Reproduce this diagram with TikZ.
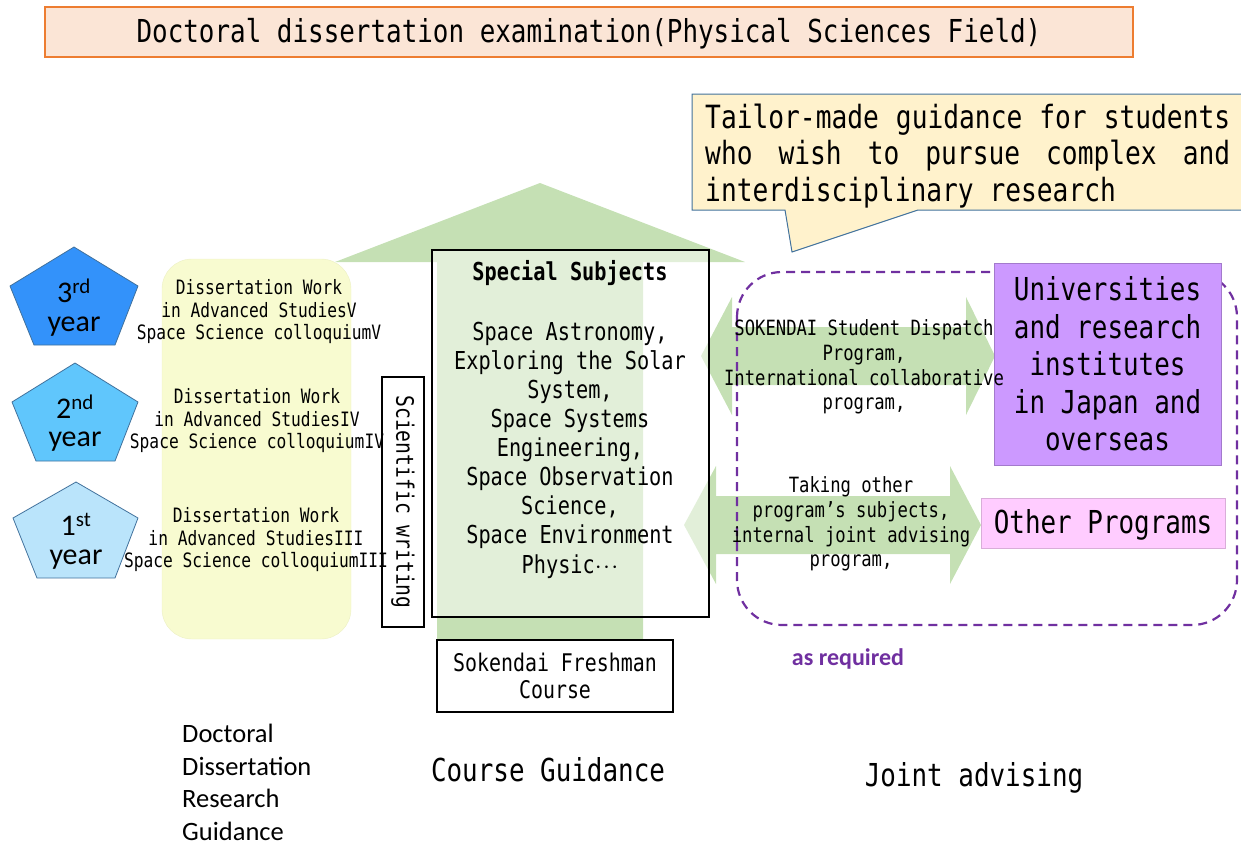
\documentclass[tikz,border=0pt]{standalone}
\usepackage{fontspec}
\setmainfont{Carlito}
\newfontfamily\goth[FakeStretch=0.82]{DejaVu Sans Mono}
\usepackage{tikz}
\usetikzlibrary{positioning}
\definecolor{arrowgreen}{RGB}{197,224,180}
\definecolor{titlefill}{RGB}{251,229,214}
\definecolor{titleline}{RGB}{237,125,49}
\definecolor{callfill}{RGB}{255,242,204}
\definecolor{callline}{RGB}{65,113,156}
\definecolor{guidefill}{RGB}{248,251,208}
\definecolor{guideline}{RGB}{236,240,196}
\definecolor{jointpurple}{RGB}{112,48,160}
\definecolor{unifill}{RGB}{204,153,255}
\definecolor{progfill}{RGB}{255,204,255}
\definecolor{yearthree}{RGB}{51,146,250}
\definecolor{yeartwo}{RGB}{96,198,252}
\definecolor{yearone}{RGB}{186,228,251}
\newcommand{\gsize}[2]{\goth\fontsize{#1}{#2}\selectfont}
\tikzset{titlebox/.style={draw=titleline, fill=titlefill, line width=1.2pt, inner sep=0pt},
    yearshape/.style={draw=callline, line width=0.8pt},
    yeartext/.style={font=\fontsize{30}{32}\selectfont, inner sep=0pt},
    coltext/.style={align=center, inner sep=0pt, font=\gsize{19.8}{22.5}},
    plainbox/.style={draw=black, line width=1.2pt, inner sep=0pt},
    arrowtext/.style={align=center, inner sep=0pt, font=\gsize{21}{24.7}},
    bigtext/.style={align=center, inner sep=0pt, font=\gsize{31.6}{37.5}}}

\begin{document}
\begin{tikzpicture}[x=1pt,y=-1pt]
    \useasboundingbox (0,0) rectangle (1241,847);
    \node[titlebox, minimum width=1088, minimum height=50, text depth=3pt] (title) at (589,32) {\gsize{31.6}{36}Doctoral dissertation examination(Physical Sciences Field)};
    % callout
    \draw[draw=callline, fill=callfill, line width=1pt] (692,94) -- (1260,94) -- (1260,210) -- (918,210) -- (792,252) -- (785,210) -- (692,210) -- cycle;
    \node[anchor=west, align=left, inner sep=0pt, font=\gsize{32}{36.5}] (tailor) at (705,156) {\makebox[525pt][l]{Tailor-made\hfill guidance\hfill for\hfill students}\\\makebox[525pt][l]{who\hfill wish\hfill to\hfill pursue\hfill complex\hfill and}\\interdisciplinary research};
    % green arrows
    \fill[arrowgreen] (437,640) -- (437,262) -- (335,262) -- (540,183) -- (745,262) -- (643,262) -- (643,640) -- cycle;
    \fill[arrowgreen] (701,356) -- (732,297) -- (732,327) -- (966,327) -- (966,297) -- (995,356) -- (966,415) -- (966,385) -- (732,385) -- (732,415) -- cycle;
    \fill[arrowgreen] (684,525) -- (716,466) -- (716,496) -- (950,496) -- (950,466) -- (981,525) -- (950,584) -- (950,554) -- (716,554) -- (716,584) -- cycle;
    % years
    \draw[yearshape, fill=yearthree] (74,247) -- (138,286) -- (115,345) -- (34,345) -- (10,286) -- cycle;
    \draw[yearshape, fill=yeartwo] (75,363) -- (138,402) -- (115,461) -- (36,461) -- (12,402) -- cycle;
    \draw[yearshape, fill=yearone] (76,482) -- (138,518) -- (115,578) -- (37,578) -- (13,518) -- cycle;
    \node[yeartext] (third) at (74,291) {3\textsuperscript{rd}};
    \node[yeartext] (thirdyear) at (74,327) {year};
    \node[yeartext] (second) at (75,407) {2\textsuperscript{nd}};
    \node[yeartext] (secondyear) at (75,442) {year};
    \node[yeartext] (first) at (76,524) {1\textsuperscript{st}};
    \node[yeartext] (firstyear) at (76,560) {year};
    % dissertation work
    \draw[draw=guideline, fill=guidefill, rounded corners=30pt] (162,259) rectangle (351,639);
    \node[coltext] (work3) at (259,312) {Dissertation Work\\in Advanced StudiesV\\Space Science colloquiumV};
    \node[coltext] (work2) at (257,421) {Dissertation Work\\in Advanced StudiesIV\\Space Science colloquiumIV};
    \node[coltext] (work1) at (256,540) {Dissertation Work\\in Advanced StudiesIII\\Space Science colloquiumIII};
    \node[plainbox, rotate=-90, minimum width=250, minimum height=42, font=\gsize{24}{26}] (writing) at (403,502) {Scientific writing};
    % course guidance
    \node[plainbox, fill=white, fill opacity=0.5, minimum width=277, minimum height=367] (special) at (570.5,433.5) {};
    \node[inner sep=0pt, font=\gsize{24.7}{28}\bfseries] (spectitle) at (570,273) {Special Subjects};
    \node[align=center, inner sep=0pt, font=\gsize{24.7}{29.1}] (speclist) at (570,450) {Space Astronomy,\\Exploring the Solar\\System,\\Space Systems\\Engineering,\\Space Observation\\Science,\\Space Environment\\Physic$\cdot\!\cdot\!\cdot$};
    \node[plainbox, fill=white, minimum width=236, minimum height=72, align=center, font=\gsize{24.3}{27}] (fresh) at (555,676) {Sokendai Freshman\\Course};
    % joint advising
    \draw[jointpurple, line width=2.2pt, dash pattern=on 9pt off 6pt, rounded corners=45pt] (737,272) rectangle (1237,625);
    \node[draw=unifill!80!black, fill=unifill, minimum width=227, minimum height=202, bigtext] (univ) at (1107.5,364) {Universities\\and research\\institutes\\in Japan and\\overseas};
    \node[draw=progfill!85!black, fill=progfill, minimum width=244, minimum height=50, bigtext, text depth=4pt] (other) at (1103,523) {Other Programs};
    \node[arrowtext] (dispatch) at (864,367) {SOKENDAI Student Dispatch\\Program,\\International collaborative\\program,};
    \node[arrowtext] (taking) at (851,524) {Taking other\\program’s subjects,\\internal joint advising\\program,};
    \node[text=jointpurple, font=\fontsize{24}{26}\selectfont\bfseries, inner sep=0pt] (required) at (848,659) {as required};
    % bottom labels
    \node[anchor=north west, align=left, inner sep=0pt, font=\fontsize{26.5}{32.6}\selectfont] (research) at (182,724) {Doctoral\\Dissertation\\Research\\Guidance};
    \node[inner sep=0pt, font=\gsize{31.6}{36}] (course) at (548,770) {Course Guidance};
    \node[inner sep=0pt, font=\gsize{31.6}{36}] (joint) at (974,778) {Joint advising};
\end{tikzpicture}
\end{document}
